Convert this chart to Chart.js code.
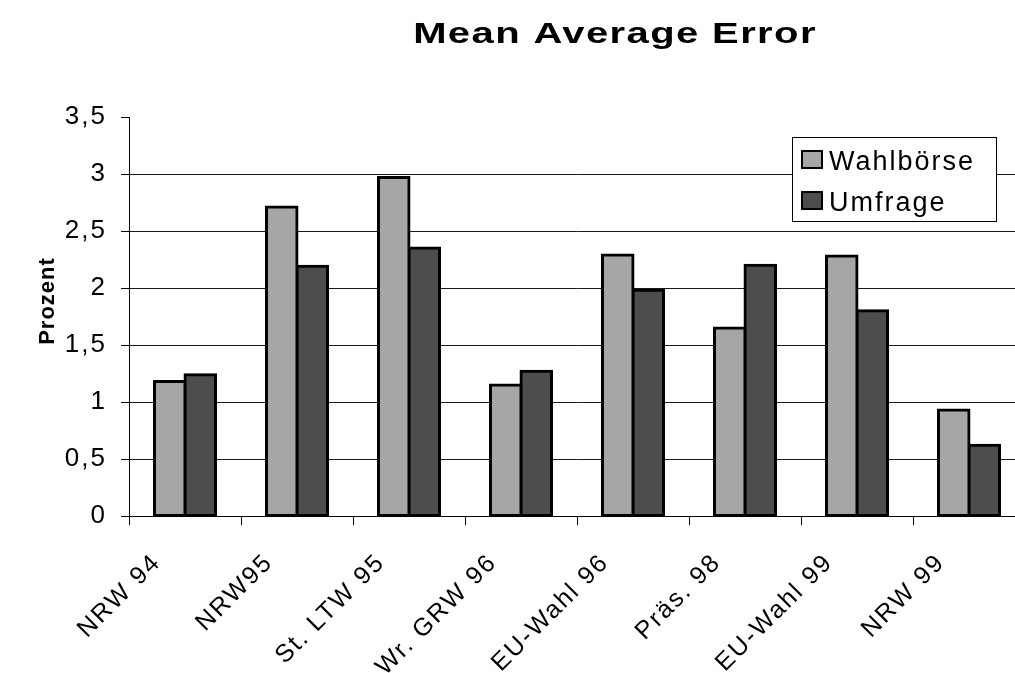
<!DOCTYPE html>
<html>
<head>
<meta charset="utf-8">
<script src="https://cdn.jsdelivr.net/npm/chart.js@4.4.1/dist/chart.umd.min.js"></script>
<style>
  html, body { margin: 0; padding: 0; background: #fff; overflow: hidden; }
  #wrap { width: 1030px; height: 673px; position: relative; }
</style>
</head>
<body>
<div id="wrap"><canvas id="chart"></canvas></div>
<script>
'use strict';

// --- data ---
const categories  = ['NRW 94', 'NRW95', 'St. LTW 95', 'Wr. GRW 96', 'EU-Wahl 96', 'Präs. 98', 'EU-Wahl 99', 'NRW 99'];
const wahlboerse  = [1.18, 2.71, 2.97, 1.15, 2.29, 1.65, 2.28, 0.93];
const umfrage     = [1.24, 2.19, 2.35, 1.27, 1.98, 2.20, 1.80, 0.62];
const yTickLabels = ['0', '0,5', '1', '1,5', '2', '2,5', '3', '3,5'];
const seriesNames = ['Wahlbörse', 'Umfrage'];
const chartTitle  = 'Mean Average Error';
const axisTitle   = 'Prozent';

const FONT = 'Arial, "Liberation Sans", sans-serif';

// the old export has wide-spaced text, so spread the letters a bit
const textSpacing = {
  id: 'textSpacing',
  beforeDraw(chart) { chart.ctx.letterSpacing = '2px'; }
};

const wideTitle = {
  id: 'wideTitle',
  afterDraw(chart) {
    const ctx = chart.ctx;
    ctx.save();
    ctx.fillStyle = '#000';
    ctx.textBaseline = 'alphabetic';
    ctx.textAlign = 'center';

    // chart title
    ctx.save();
    ctx.letterSpacing = '1px';
    ctx.font = 'bold 29px ' + FONT;
    ctx.translate(615, 43);
    ctx.scale(1.38, 1);
    ctx.fillText(chartTitle, 0, 0);
    ctx.restore();

    // y axis title, left of the tick labels
    ctx.save();
    ctx.letterSpacing = '1px';
    ctx.font = 'bold 22px ' + FONT;
    ctx.textBaseline = 'middle';
    ctx.translate(48, 301);
    ctx.rotate(-Math.PI / 2);
    ctx.fillText(axisTitle, 0, 0);
    ctx.restore();

    ctx.restore();
  }
};

// legend in a framed white box over the plot
const boxLegend = {
  id: 'boxLegend',
  afterDraw(chart) {
    const ctx = chart.ctx;
    ctx.save();
    ctx.fillStyle = '#fff';
    ctx.fillRect(792, 137, 205, 85);
    ctx.strokeStyle = '#000';
    ctx.lineWidth = 1;
    ctx.strokeRect(792.5, 137.5, 204, 84);
    ctx.letterSpacing = '2px';
    ctx.font = '27px ' + FONT;
    ctx.textBaseline = 'alphabetic';
    ctx.textAlign = 'left';
    chart.data.datasets.forEach((ds, i) => {
      const y = 150 + i * 41;
      ctx.fillStyle = ds.backgroundColor;
      ctx.fillRect(801, y, 22, 19);
      ctx.lineWidth = 2;
      ctx.strokeStyle = '#000';
      ctx.strokeRect(802, y + 1, 20, 17);
      ctx.fillStyle = '#000';
      ctx.fillText(ds.label, 829, y + 20);
    });
    ctx.restore();
  }
};

new Chart(document.getElementById('chart'), {
  type: 'bar',
  data: {
    labels: categories,
    datasets: [
      { label: seriesNames[0], data: wahlboerse, backgroundColor: '#a6a6a6' },
      { label: seriesNames[1], data: umfrage,    backgroundColor: '#4d4d4d' }
    ]
  },
  options: {
    responsive: true,
    maintainAspectRatio: false,
    animation: false,
    layout: { padding: { top: 117, right: 5, left: 0, bottom: 0 } },
    datasets: {
      bar: {
        borderColor: '#000',
        borderWidth: 3,
        borderSkipped: false,
        inflateAmount: 1.5,
        categoryPercentage: 0.545,
        barPercentage: 1
      }
    },
    plugins: {
      legend: { display: false },
      title: { display: false },
      tooltip: { enabled: false }
    },
    scales: {
      x: {
        grid: { drawOnChartArea: false, color: '#000', tickLength: 9, offset: true },
        border: { color: '#000', width: 1 },
        ticks: {
          color: '#000',
          font: { size: 25, family: FONT },
          minRotation: 45,
          maxRotation: 45,
          autoSkip: false,
          padding: 23,
          labelOffset: -28
        },
        afterFit(scale) { scale.height = 157; }
      },
      y: {
        min: 0,
        max: 3.5,
        ticks: {
          stepSize: 0.5,
          color: '#000',
          font: { size: 26, family: FONT },
          padding: 14,
          callback: (v, i) => yTickLabels[i]
        },
        grid: {
          color: c => (c.tick && c.tick.value === 3.5) ? 'rgba(0,0,0,0)' : '#1a1a1a',
          tickColor: '#000',
          tickLength: 8
        },
        border: { color: '#000', width: 1 },
        afterFit(scale) { scale.width = 129; }
      }
    }
  },
  plugins: [textSpacing, wideTitle, boxLegend]
});
</script>
</body>
</html>
